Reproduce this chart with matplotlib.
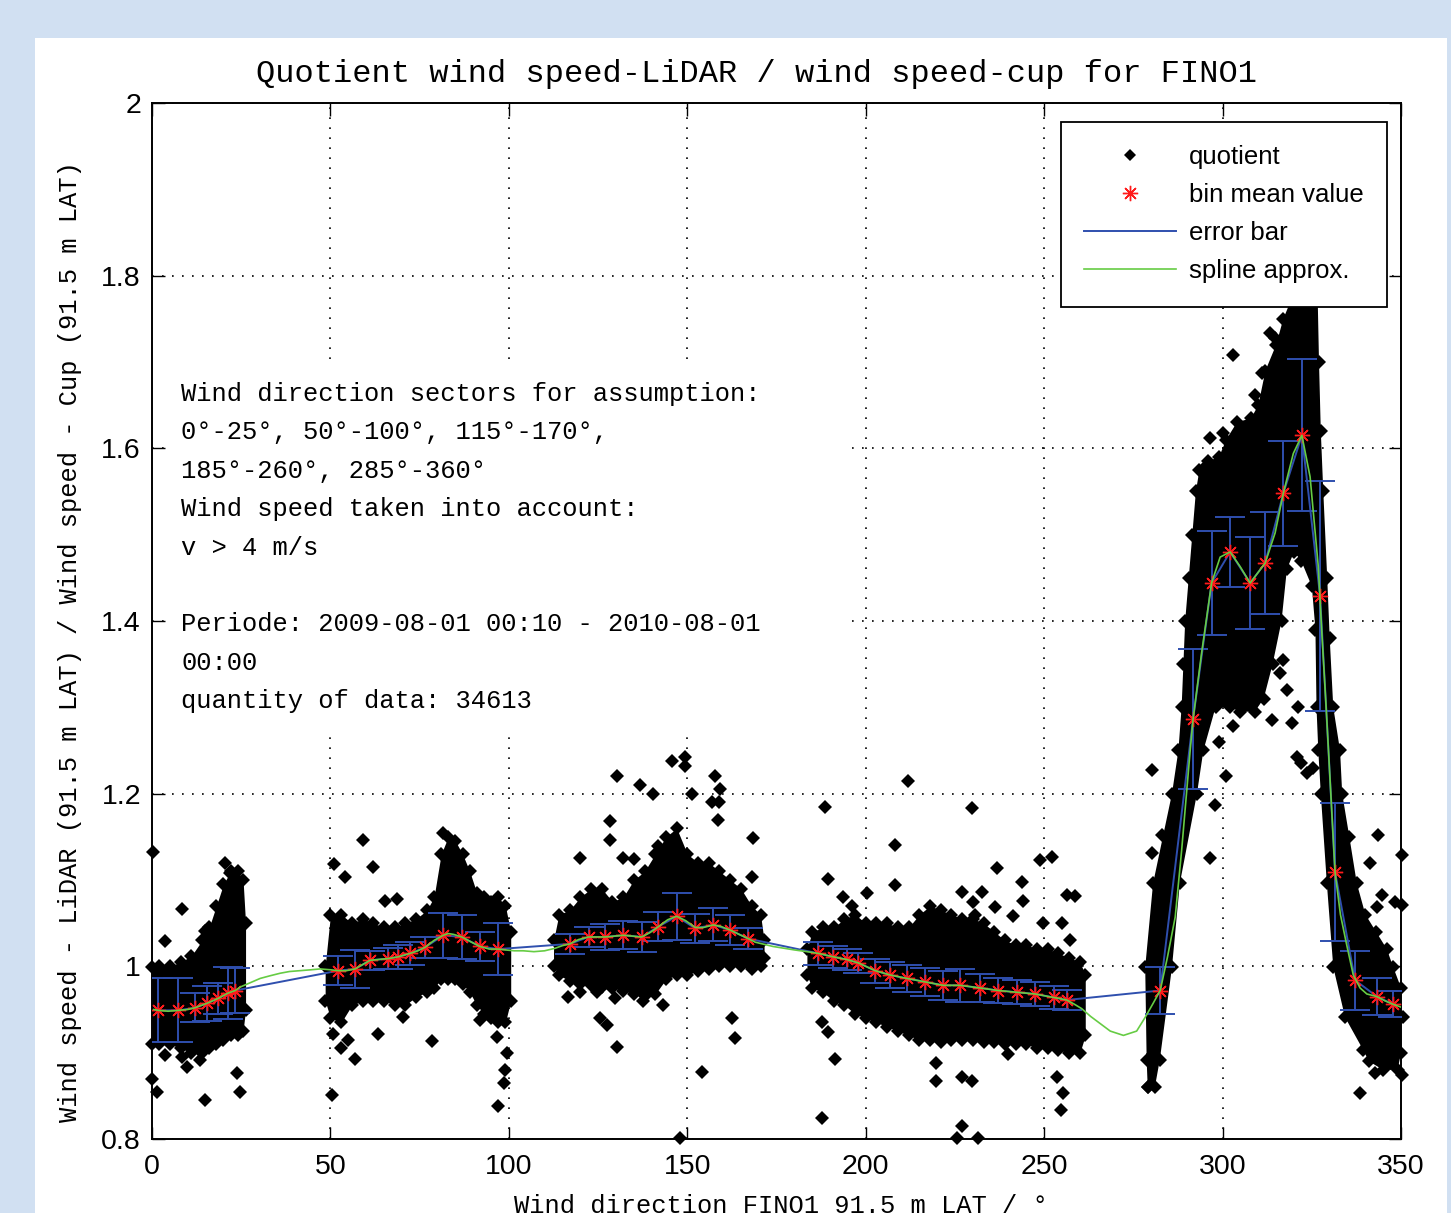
# quotient LiDAR / cup wind speed vs wind direction, FINO1
import matplotlib.pyplot as plt
from matplotlib.patches import Rectangle
from matplotlib.lines import Line2D

# ---- bin means and error bars (one entry per direction bin)
bin_x = [1.8, 7.4, 12.0, 15.3, 18.6, 21.3, 23.3,
         52.2, 56.9, 61.1, 66.2, 69.0, 72.3, 76.5, 81.6, 86.8, 91.9, 97.0,
         117.1, 122.3, 126.9, 132.1, 137.2, 141.9, 147.0, 152.2, 157.3, 162.0, 167.1,
         186.7, 190.9, 194.6, 197.9, 202.6, 206.8, 211.5, 216.6, 221.7, 226.4, 232.0,
         237.1, 242.3, 247.4, 252.6, 256.3,
         282.5, 291.7, 296.9, 302.1, 307.7, 311.9, 317.0, 322.2, 327.3, 331.5, 337.1,
         343.2, 347.8]
bin_mean = [0.949, 0.949, 0.952, 0.957, 0.963, 0.969, 0.972,
            0.995, 0.997, 1.007, 1.009, 1.011, 1.015, 1.022, 1.036, 1.034, 1.023, 1.020,
            1.026, 1.034, 1.034, 1.036, 1.034, 1.046, 1.058, 1.044, 1.048, 1.042, 1.032,
            1.015, 1.011, 1.008, 1.004, 0.995, 0.990, 0.986, 0.982, 0.978, 0.978, 0.975,
            0.972, 0.970, 0.968, 0.964, 0.961,
            0.972, 1.286, 1.444, 1.480, 1.444, 1.467, 1.548, 1.615, 1.429, 1.109, 0.984,
            0.965, 0.956]
bin_err = [0.037, 0.037, 0.017, 0.020, 0.018, 0.030, 0.026,
           0.017, 0.022, 0.011, 0.012, 0.014, 0.013, 0.012, 0.026, 0.025, 0.017, 0.030,
           0.012, 0.012, 0.015, 0.016, 0.017, 0.017, 0.027, 0.017, 0.019, 0.017, 0.012,
           0.013, 0.013, 0.012, 0.012, 0.014, 0.015, 0.016, 0.016, 0.017, 0.019, 0.016,
           0.015, 0.014, 0.014, 0.013, 0.012,
           0.027, 0.081, 0.060, 0.041, 0.053, 0.059, 0.061, 0.088, 0.133, 0.080, 0.034,
           0.021, 0.015]

# ---- spline approximation
spline_x = [0.5, 1.8, 4.5, 7.4, 10.0, 12.0, 15.3, 18.6, 21.3, 23.3, 24.7,
            27.5, 30.3, 33.0, 35.9, 38.5, 41.5, 44.5, 47.1, 50.0,
            52.2, 54.5, 56.9, 59.0, 61.1, 63.5, 66.2, 69.0, 72.3, 74.5, 76.5, 79.0,
            81.6, 83.0, 84.5, 86.8, 89.5, 91.9, 94.5, 97.0, 99.0,
            101.5, 104.0, 107.0, 110.0, 113.0, 115.0,
            117.1, 119.5, 122.3, 124.5, 126.9, 129.5, 132.1, 134.5, 137.2, 139.5, 141.9,
            144.5, 147.0, 149.5, 152.2, 154.5, 157.3, 159.5, 162.0, 164.5, 167.1, 169.0,
            171.0, 174.0, 177.0, 180.0, 183.5,
            186.7, 190.9, 194.6, 197.9, 202.6, 206.8, 211.5, 216.6, 221.7, 226.4, 232.0,
            237.1, 242.3, 247.4, 252.6, 256.3,
            258.5, 260.5, 263.0, 265.6, 268.5, 272.2, 275.9, 278.3, 280.5, 282.5,
            284.5, 286.7, 288.5, 290.9, 291.7, 294.1, 296.9, 299.3, 302.1, 304.9, 307.7,
            311.9, 314.7, 317.0, 319.8, 322.2, 324.5, 326.8, 327.8, 329.0, 330.3, 331.5,
            333.0, 334.7, 336.6, 338.5, 340.4, 343.2, 345.5, 347.8, 349.8]
spline_y = [0.950, 0.949, 0.948, 0.949, 0.950, 0.952, 0.957, 0.963, 0.969, 0.972, 0.976,
            0.981, 0.986, 0.989, 0.992, 0.994, 0.995, 0.996, 0.997, 0.996,
            0.995, 0.995, 0.997, 1.002, 1.007, 1.008, 1.009, 1.011, 1.015, 1.018, 1.022, 1.030,
            1.036, 1.038, 1.037, 1.034, 1.028, 1.023, 1.020, 1.020, 1.019,
            1.018, 1.018, 1.017, 1.018, 1.021, 1.024,
            1.026, 1.031, 1.034, 1.034, 1.034, 1.035, 1.036, 1.035, 1.034, 1.039, 1.046,
            1.054, 1.058, 1.053, 1.045, 1.045, 1.048, 1.046, 1.042, 1.037, 1.032, 1.028,
            1.026, 1.023, 1.021, 1.019, 1.017,
            1.015, 1.011, 1.008, 1.004, 0.995, 0.990, 0.986, 0.982, 0.978, 0.978, 0.975,
            0.972, 0.970, 0.968, 0.964, 0.961,
            0.956, 0.951, 0.942, 0.934, 0.925, 0.920, 0.925, 0.941, 0.957, 0.972,
            1.010, 1.057, 1.134, 1.250, 1.286, 1.363, 1.444, 1.474, 1.480, 1.463, 1.444,
            1.467, 1.502, 1.548, 1.594, 1.615, 1.567, 1.463, 1.386, 1.300, 1.200, 1.109,
            1.060, 1.026, 0.990, 0.975, 0.968, 0.965, 0.960, 0.956, 0.953]

# ---- dense quotient cloud: upper / lower envelope per sector
s1_x = [0.0, 2, 5, 8, 11, 14, 16, 18, 20, 22, 24, 25.5, 26.2]
s1_top = [0.999, 1.0, 1.0, 1.005, 1.012, 1.03, 1.045, 1.07, 1.095, 1.11, 1.11, 1.10, 1.05]
s1_bot = [0.91, 0.91, 0.91, 0.905, 0.90, 0.90, 0.905, 0.91, 0.915, 0.92, 0.92, 0.925, 0.95]

s2_x = [48.5, 50, 53, 56, 59, 62, 65, 68, 71, 74, 77, 79, 81, 83, 85, 87, 89, 91,
        93, 95, 97, 99, 100.5]
s2_top = [1.00, 1.06, 1.06, 1.05, 1.055, 1.05, 1.045, 1.045, 1.05, 1.055, 1.065, 1.08,
          1.13, 1.15, 1.145, 1.13, 1.11, 1.085, 1.08, 1.075, 1.08, 1.07, 1.04]
s2_bot = [0.96, 0.94, 0.935, 0.955, 0.96, 0.96, 0.96, 0.955, 0.955, 0.965, 0.97, 0.975,
          0.985, 0.985, 0.985, 0.98, 0.97, 0.955, 0.945, 0.94, 0.935, 0.935, 0.96]

s3_x = [112.5, 114, 117, 120, 123, 126, 129, 132, 135, 138, 141, 144, 147, 150, 153,
        156, 159, 162, 165, 168, 170.5, 171.5]
s3_top = [1.03, 1.06, 1.065, 1.08, 1.09, 1.09, 1.075, 1.08, 1.10, 1.11, 1.13, 1.15,
          1.16, 1.13, 1.12, 1.12, 1.11, 1.10, 1.09, 1.07, 1.06, 1.03]
s3_bot = [1.00, 0.99, 0.983, 0.98, 0.978, 0.976, 0.975, 0.972, 0.968, 0.966, 0.968,
          0.985, 0.99, 0.99, 0.995, 0.997, 1.0, 1.0, 1.0, 0.997, 1.0, 1.01]

s4_x = [183.5, 185, 188, 191, 194, 197, 200, 203, 206, 209, 212, 215, 218, 221, 224,
        227, 230, 233, 236, 239, 242, 245, 248, 251, 254, 257, 260, 261.5]
s4_top = [1.02, 1.04, 1.045, 1.045, 1.055, 1.06, 1.05, 1.05, 1.05, 1.045, 1.045, 1.06,
          1.07, 1.065, 1.06, 1.055, 1.055, 1.05, 1.04, 1.03, 1.025, 1.025, 1.02, 1.02,
          1.015, 1.01, 1.005, 0.99]
s4_bot = [0.99, 0.975, 0.97, 0.96, 0.955, 0.945, 0.94, 0.935, 0.93, 0.925, 0.92, 0.915,
          0.915, 0.912, 0.915, 0.915, 0.915, 0.912, 0.912, 0.91, 0.91, 0.91, 0.905,
          0.905, 0.903, 0.90, 0.90, 0.92]

# sector 285-360: outline of the cloud (two flanks joined at the top)
s5_x = [279.0, 278.7, 278.3, 280.5, 285.8, 287.6, 288.5, 289.0, 289.5, 290.5, 291.5,
        292.5, 293.5, 296.0, 299.0, 301.0, 304.0, 308.0, 310.0, 312.0, 315.0, 317.0,
        319.0, 321.0, 323.5, 325.5, 326.5, 327.0, 327.5, 328.2, 329.3, 330.0, 331.0,
        332.9, 333.5, 335.5, 337.6, 340.0, 343.0, 346.0, 347.8, 350.0, 350.5, 350.0,
        349.0, 345.0, 341.0, 339.4, 334.3, 331.0, 329.2, 327.5, 326.8, 326.3, 326.0,
        325.0, 322.0, 320.0, 318.0, 316.5, 314.0, 311.5, 309.0, 305.0, 302.0, 298.0,
        294.6, 292.8, 288.0, 285.8, 282.4, 281.0]
s5_y = [0.86, 0.892, 0.999, 1.096, 1.20, 1.25, 1.30, 1.35, 1.40, 1.45, 1.50,
        1.55, 1.575, 1.585, 1.59, 1.61, 1.63, 1.635, 1.65, 1.69, 1.72, 1.75,
        1.77, 1.80, 1.85, 1.85, 1.80, 1.70, 1.62, 1.55, 1.45, 1.38, 1.30,
        1.25, 1.20, 1.15, 1.096, 1.06, 1.04, 1.02, 0.999, 0.975, 0.941, 0.90,
        0.88, 0.88, 0.89, 0.903, 0.941, 0.999, 1.096, 1.20, 1.25, 1.30, 1.39,
        1.44, 1.47, 1.48, 1.46, 1.40, 1.35, 1.31, 1.295, 1.295, 1.30, 1.30,
        1.25, 1.20, 1.096, 0.999, 0.892, 0.86]

# isolated quotient values outside the dense cloud
out_x = [0.3, 8.3, 3.6, 14.9, 15.3, 21.9, 23.7, 22.7, 14.9, 23.7, 24.7, 0.0, 1.3, 3.6,
         8.3, 9.7, 13.4, 20.5,
         59.2, 51.0, 54.1, 62.0, 65.3, 68.6, 81.6, 50.7, 56.9, 63.4, 70.4, 78.4, 50.3,
         91.9, 96.6, 98.9, 97.0, 99.5, 98.5, 53.0, 55.0,
         130.2, 136.7, 140.4, 145.6, 149.4, 149.4, 151.2, 157.8, 159.2, 157.0, 159.0,
         158.5, 128.3, 128.3, 119.9, 132.0, 135.0, 141.8, 168.4, 168.0, 116.6, 120.0,
         124.6, 125.5, 127.4, 130.2, 129.7, 137.6, 143.3, 162.4, 163.4, 154.0, 148.0,
         211.9, 188.6, 229.7, 208.2, 189.4, 208.2, 200.3, 193.6, 196.1, 226.9, 232.5,
         230.5, 230.0, 236.7, 243.7, 244.1, 236.2, 241.3, 248.8, 252.1, 256.3, 258.6,
         249.7, 257.2, 255.0, 187.6, 189.4, 191.4, 187.7, 219.8, 219.8, 226.9, 229.7,
         226.9, 225.5, 231.5, 253.5, 255.3, 254.8, 239.9,
         303.0, 311.0, 309.1, 313.8, 314.2, 313.3, 314.7, 318.9, 296.5, 300.0, 304.9,
         295.5, 313.8, 319.4, 303.0, 305.0, 320.7, 323.5, 316.0, 317.0, 280.1, 282.9,
         280.1, 296.5, 297.9, 322.0, 325.4, 343.6, 350.2, 341.3, 348.3, 350.2, 344.6,
         343.2, 342.7, 350.2, 338.5, 279.6, 280.5, 279.0, 310.0, 318.0, 321.0, 299.0,
         301.0]
out_y = [1.132, 1.066, 1.029, 1.041, 1.025, 1.108, 1.099, 1.075, 0.845, 0.876, 0.855,
         0.870, 0.855, 0.897, 0.895, 0.883, 0.891, 1.12,
         1.146, 1.119, 1.103, 1.115, 1.076, 1.078, 1.154, 0.922, 0.893, 0.922, 0.941,
         0.913, 0.851, 0.938, 0.918, 0.880, 0.838, 0.90, 0.865, 0.905, 0.915,
         1.220, 1.210, 1.200, 1.238, 1.242, 1.232, 1.200, 1.220, 1.205, 1.190, 1.190,
         1.170, 1.168, 1.146, 1.125, 1.126, 1.124, 1.139, 1.149, 1.104, 0.965, 0.970,
         0.970, 0.940, 0.932, 0.907, 0.963, 0.960, 0.955, 0.940, 0.917, 0.878, 0.801,
         1.215, 1.185, 1.183, 1.140, 1.101, 1.094, 1.085, 1.080, 1.070, 1.086, 1.086,
         1.060, 1.075, 1.114, 1.098, 1.076, 1.069, 1.058, 1.123, 1.127, 1.083, 1.081,
         1.050, 1.030, 1.050, 0.935, 0.924, 0.893, 0.824, 0.888, 0.867, 0.872, 0.867,
         0.815, 0.801, 0.801, 0.872, 0.853, 0.834, 0.899,
         1.708, 1.687, 1.662, 1.668, 1.637, 1.734, 1.728, 1.737, 1.612, 1.618, 1.618,
         1.581, 1.285, 1.282, 1.278, 1.307, 1.243, 1.224, 1.340, 1.355, 1.227, 1.152,
         1.131, 1.125, 1.187, 1.235, 1.230, 1.152, 1.129, 1.120, 1.075, 1.071, 1.083,
         1.069, 0.876, 0.874, 0.853, 0.889, 0.899, 0.860, 1.350, 1.320, 1.300, 1.260,
         1.220]

xticks = [0, 50, 100, 150, 200, 250, 300, 350]
yticks = [0.8, 1.0, 1.2, 1.4, 1.6, 1.8, 2.0]
ytick_labels = ['0.8', '1', '1.2', '1.4', '1.6', '1.8', '2']

info_lines = ['Wind direction sectors for assumption:',
              '0°-25°, 50°-100°, 115°-170°,',
              '185°-260°, 285°-360°',
              'Wind speed taken into account:',
              'v > 4 m/s',
              '',
              'Periode: 2009-08-01 00:10 - 2010-08-01',
              '00:00',
              'quantity of data: 34613']

BLUE = '#2f4fae'
GREEN = '#66cc44'
RED = '#ff1a1a'
MONO = 'Liberation Mono'
SANS = 'Liberation Sans'

fig = plt.figure(figsize=(14.51, 12.13), dpi=100, facecolor='#d1e0f2')
fig.add_artist(Rectangle((35 / 1451, 0), 1412 / 1451, 1175 / 1213,
                         transform=fig.transFigure, facecolor='white',
                         edgecolor='none', zorder=-1))

ax = fig.add_axes([0.1048, 0.0610, 0.8608, 0.8541])
ax.set_axisbelow(True)

# quotient cloud
ms_q = 7.5
for xs, top, bot in [(s1_x, s1_top, s1_bot), (s2_x, s2_top, s2_bot),
                     (s3_x, s3_top, s3_bot), (s4_x, s4_top, s4_bot)]:
    ax.fill_between(xs, bot, top, color='k', lw=0, zorder=2)
    ax.plot(xs, top, 'D', color='k', ms=ms_q, mew=0, zorder=2, clip_on=False)
    ax.plot(xs, bot, 'D', color='k', ms=ms_q, mew=0, zorder=2, clip_on=False)
ax.fill(s5_x, s5_y, color='k', lw=0, zorder=2)
ax.plot(s5_x, s5_y, 'D', color='k', ms=ms_q, mew=0, zorder=2, ls='none', clip_on=False)
ax.plot(out_x, out_y, 'D', color='k', ms=ms_q, mew=0, ls='none', zorder=2, clip_on=False)

# error bars, bin means, spline
ax.errorbar(bin_x, bin_mean, yerr=bin_err, fmt='-', color=BLUE, lw=1.4,
            elinewidth=1.4, capsize=11, capthick=1.4, zorder=3)
ax.plot(bin_x, bin_mean, ls='none', marker=(8, 2, 0), ms=11, mec=RED, mew=1.0,
        zorder=4)
ax.plot(spline_x, spline_y, color=GREEN, lw=1.2, zorder=5)

# white box behind the info text
ax.add_patch(Rectangle((0.012, 0.390), 0.547, 0.362, transform=ax.transAxes,
                       facecolor='white', edgecolor='none', zorder=1))
for i, line in enumerate(info_lines):
    ax.text(0.0232, 0.7191 - i * 0.03707, line, transform=ax.transAxes,
            family=MONO, fontsize=18.4, va='center', ha='left', zorder=6)

ax.set_xlim(0, 350)
ax.set_ylim(0.8, 2.0)
ax.set_xticks(xticks)
ax.set_yticks(yticks)
ax.set_yticklabels(ytick_labels)
for lab in ax.get_xticklabels() + ax.get_yticklabels():
    lab.set_family(SANS)
ax.tick_params(direction='in', length=9, width=1.0, top=True, right=True,
               labelsize=20.5, pad=8, colors='k')
ax.tick_params(axis='x', pad=11)
ax.grid(True, ls=(0, (1, 5)), color='k', lw=1.2)
for sp in ax.spines.values():
    sp.set_linewidth(1.4)

handles = [Line2D([], [], ls='none', marker='D', color='k', ms=6, mew=0),
           Line2D([], [], ls='none', marker=(8, 2, 0), ms=11, mec=RED, mew=1.0),
           Line2D([], [], color=BLUE, lw=1.4),
           Line2D([], [], color=GREEN, lw=1.2)]
leg = ax.legend(handles, ['quotient', 'bin mean value', 'error bar', 'spline approx.'],
                loc='upper right', bbox_to_anchor=(0.9888, 0.9817), borderaxespad=0,
                prop={'family': SANS, 'size': 18.5}, handlelength=3.6,
                handletextpad=0.5, labelspacing=0.55, borderpad=0.9,
                fancybox=False, framealpha=1, edgecolor='k')
leg.get_frame().set_linewidth(1.3)
leg.set_zorder(10)

fig.text(756 / 1451, 1 - 74 / 1213, 'Quotient wind speed-LiDAR / wind speed-cup for FINO1',
         family=MONO, fontsize=23, ha='center', va='center')
fig.text(70 / 1451, 1 - 642 / 1213,
         'Wind speed - LiDAR (91.5 m LAT) / Wind speed - Cup (91.5 m LAT)',
         family=MONO, fontsize=18.4, rotation=90, ha='center', va='center')
fig.text(781 / 1451, 1 - 1206 / 1213, 'Wind direction FINO1 91.5 m LAT / °',
         family=MONO, fontsize=18.4, ha='center', va='center')

fig.savefig('out.png', dpi=100, facecolor=fig.get_facecolor())
